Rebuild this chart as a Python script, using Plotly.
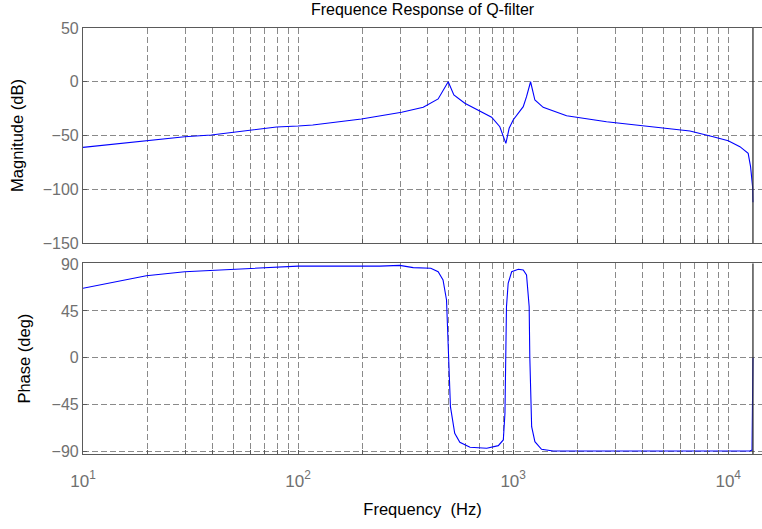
import plotly.graph_objects as go

# ---- data ----
mag_freq = [10, 19.7, 29.7, 39.5, 59.6, 79.4, 100, 117, 197, 240, 303, 382, 448, 499,
            530, 596, 700, 794, 867, 925, 958, 1000, 1114, 1154, 1205, 1262, 1379,
            1772, 2718, 4170, 6637, 8510, 10000, 11330, 12380, 12700, 12980, 13030]
mag_db = [-61, -55.1, -51.1, -49.5, -44.9, -42.1, -41.2, -40.2, -34.7, -31.9, -28.4,
          -23.8, -16, 0, -12.3, -20, -27.2, -33, -41.8, -57.3, -43.3, -35.6, -23.2,
          -13.9, 0, -17, -23.8, -31.6, -37.2, -41.2, -45.8, -51.1, -54.8, -60.4,
          -66.6, -79, -97.6, -112]

ph_freq = [10, 19.7, 29.7, 49.9, 79, 100, 240, 297, 343, 414, 448, 472, 490, 499, 511,
           535, 565, 630, 754, 853, 900, 916, 925, 931, 948, 984, 1057, 1114, 1154,
           1187, 1195, 1219, 1262, 1355, 1535, 12590, 12900, 13030]
ph_deg = [66.7, 78.8, 82.6, 84.9, 86.5, 88, 88, 88.7, 86.5, 85.9, 82.6, 74.7, 55.5,
          1.1, -46.8, -72.3, -81, -85.7, -86.7, -84.2, -78.7, -53, 1, 49, 71.5, 82.6,
          84.9, 84.2, 79.5, 49, 1, -66, -80.4, -87.7, -89.3, -89.3, -88.5, 0]

NYQ_HZ = 13030
mag_ticks = [50, 0, -50, -100, -150]
ph_ticks = [90, 45, 0, -45, -90]
decades = [10, 100, 1000, 10000]
x_grid = [m * d for d in decades for m in range(1, 10)]
x_text = ["10<sup>%d</sup>" % (len(str(v)) - 1) if v in decades else "" for v in x_grid]

BLUE = "#0000ff"
GRID = "#8a8a8a"
AX = "#5a5a5a"
TICKC = "#707070"
FONT = "Liberation Sans, Arial, sans-serif"
DASH = "6px,3px"

fig = go.Figure()
fig.add_trace(go.Scatter(x=mag_freq, y=mag_db, mode="lines",
                         line=dict(color=BLUE, width=1.1), xaxis="x", yaxis="y"))
fig.add_trace(go.Scatter(x=ph_freq, y=ph_deg, mode="lines",
                         line=dict(color=BLUE, width=1.1), xaxis="x2", yaxis="y2"))
# dark reference line at the end frequency
fig.add_trace(go.Scatter(x=[NYQ_HZ, NYQ_HZ], y=[50, -150], mode="lines",
                         line=dict(color="#333333", width=1.3), xaxis="x", yaxis="y"))
fig.add_trace(go.Scatter(x=[NYQ_HZ, NYQ_HZ], y=[90.7, -92.2], mode="lines",
                         line=dict(color="#333333", width=1.3), xaxis="x2", yaxis="y2"))

xcommon = dict(type="log", range=[1, 4.157], tickvals=x_grid, ticktext=x_text,
               showgrid=True, gridcolor=GRID, griddash=DASH, gridwidth=1,
               showline=True, linecolor=AX, linewidth=1.2, mirror=True,
               ticks="inside", ticklen=4, tickcolor=AX, zeroline=False,
               tickfont=dict(family=FONT, size=17, color=TICKC))
ycommon = dict(showgrid=True, gridcolor=GRID, griddash=DASH, gridwidth=1,
               showline=True, linecolor=AX, linewidth=1.2, mirror=False,
               ticks="inside", ticklen=4, tickcolor=AX, zeroline=False,
               tickfont=dict(family=FONT, size=16, color=TICKC))
TFONT = dict(family=FONT, size=16.5, color="black")

fig.update_layout(
    width=762, height=529,
    margin=dict(l=83, r=0, t=28, b=75),
    paper_bgcolor="white", plot_bgcolor="white",
    showlegend=False,
    font=dict(family=FONT, size=16, color="black"),
    title=dict(text="Frequence Response of Q-filter", x=0.5545, xanchor="center",
               y=1 - 9 / 529, yanchor="middle", yref="container",
               font=dict(family=FONT, size=16, color="black")),
    xaxis=dict(xcommon, domain=[0, 1], anchor="y", showticklabels=False),
    yaxis=dict(ycommon, domain=[0.4953, 1], anchor="x", range=[-150, 50],
               tickvals=mag_ticks, title=dict(text="Magnitude (dB)", standoff=14, font=TFONT)),
    xaxis2=dict(xcommon, domain=[0, 1], anchor="y2", matches="x", ticklabelstandoff=11,
                title=dict(text="Frequency \u00a0(Hz)", standoff=13, font=TFONT)),
    yaxis2=dict(ycommon, domain=[0, 0.4477], anchor="x2", range=[-92.2, 90.7],
                tickvals=ph_ticks, title=dict(text="Phase (deg)", standoff=16, font=TFONT)),
)

fig.write_html("out.html")
